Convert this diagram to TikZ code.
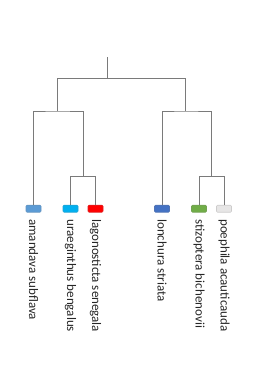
\documentclass[tikz,border=0pt]{standalone}
\usepackage{fontspec}
\setmainfont{Carlito}
\usetikzlibrary{positioning}

\definecolor{linegray}{HTML}{7A7A7A}
\definecolor{txtgray}{HTML}{262626}
\definecolor{cAmandava}{HTML}{5B9BD5}
\definecolor{cUraeginthus}{HTML}{00B0F0}
\definecolor{cLagonosticta}{HTML}{FF0000}
\definecolor{cLonchura}{HTML}{4472C4}
\definecolor{cStizoptera}{HTML}{70AD47}
\definecolor{cPoephila}{HTML}{E7E6E6}

\tikzset{
  branch/.style={draw=linegray, line width=0.9pt},
  leafbox/.style={fill=#1, draw=#1!75!gray, line width=0.6pt,
    rounded corners=1pt, minimum width=15pt, minimum height=7pt, inner sep=0pt},
  leaftext/.style={rotate=-90, anchor=west, inner sep=0pt, text=txtgray,
    font=\fontsize{13}{15}\selectfont}
}

\begin{document}
\begin{tikzpicture}[x=1pt, y=1pt]
    \useasboundingbox (0,0) rectangle (264,-369);

    % 1. leaf boxes and species names
    \foreach \x/\nm/\col/\txt in {33.5/amandava/cAmandava/amandava subflava,
        70.5/uraeginthus/cUraeginthus/uraeginthus bengalus,
        95.5/lagonosticta/cLagonosticta/lagonosticta senegala,
        162/lonchura/cLonchura/lonchura striata,
        199/stizoptera/cStizoptera/stizoptera bichenovii,
        224/poephila/cPoephila/poephila acauticauda}{
      \node[leafbox=\col] (\nm) at (\x,-208.7) {};
      \node[leaftext] (t-\nm) at ([yshift=-6.5pt]\nm.south) {\txt};
    }

    % 2. joints of the tree
    \coordinate (top)   at (107.3,-57.3);
    \coordinate (root)  at (107.3,-78.3);
    \coordinate (left)  at (57,-111);
    \coordinate (right) at (185.7,-111);
    \coordinate (lpair) at (83.5,-176.3);
    \coordinate (rpair) at (211.5,-176.3);

    % 3. branches
    \draw[branch] (top) -- (root);
    \draw[branch] (left) |- (root) -| (right);
    \draw[branch] (amandava.north) |- (left) -| (lpair);
    \draw[branch] (uraeginthus.north) |- (lpair) -| (lagonosticta.north);
    \draw[branch] (lonchura.north) |- (right) -| (rpair);
    \draw[branch] (stizoptera.north) |- (rpair) -| (poephila.north);

  \end{tikzpicture}
\end{document}
